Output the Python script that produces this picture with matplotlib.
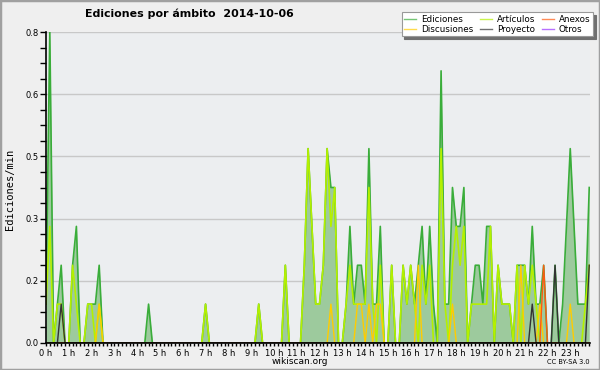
import numpy as np
import matplotlib
matplotlib.use("Agg")
import matplotlib.pyplot as plt
from matplotlib.patches import Rectangle

# one value every 10 minutes, one row per hour (0 h .. 23 h)
ediciones = [
    0.1, 0.8, 0.0, 0.1, 0.2, 0.0,
    0.0, 0.2, 0.3, 0.0, 0.0, 0.1,
    0.1, 0.1, 0.2, 0.0, 0.0, 0.0,
    0.0, 0.0, 0.0, 0.0, 0.0, 0.0,
    0.0, 0.0, 0.0, 0.1, 0.0, 0.0,
    0.0, 0.0, 0.0, 0.0, 0.0, 0.0,
    0.0, 0.0, 0.0, 0.0, 0.0, 0.0,
    0.1, 0.0, 0.0, 0.0, 0.0, 0.0,
    0.0, 0.0, 0.0, 0.0, 0.0, 0.0,
    0.0, 0.0, 0.1, 0.0, 0.0, 0.0,
    0.0, 0.0, 0.0, 0.2, 0.0, 0.0,
    0.0, 0.0, 0.2, 0.5, 0.3, 0.1,
    0.1, 0.2, 0.5, 0.4, 0.4, 0.0,
    0.0, 0.1, 0.3, 0.1, 0.2, 0.2,
    0.1, 0.5, 0.1, 0.1, 0.3, 0.0,
    0.0, 0.2, 0.0, 0.0, 0.2, 0.1,
    0.2, 0.1, 0.2, 0.3, 0.1, 0.3,
    0.1, 0.0, 0.7, 0.1, 0.1, 0.4,
    0.3, 0.3, 0.4, 0.0, 0.1, 0.2,
    0.2, 0.1, 0.3, 0.3, 0.0, 0.2,
    0.1, 0.1, 0.1, 0.0, 0.2, 0.2,
    0.2, 0.1, 0.3, 0.1, 0.1, 0.2,
    0.0, 0.0, 0.2, 0.0, 0.1, 0.3,
    0.5, 0.3, 0.1, 0.1, 0.1, 0.4,
]

articulos = [
    0.1, 0.3, 0.0, 0.1, 0.1, 0.0,
    0.0, 0.2, 0.1, 0.0, 0.0, 0.1,
    0.1, 0.0, 0.1, 0.0, 0.0, 0.0,
    0.0, 0.0, 0.0, 0.0, 0.0, 0.0,
    0.0, 0.0, 0.0, 0.0, 0.0, 0.0,
    0.0, 0.0, 0.0, 0.0, 0.0, 0.0,
    0.0, 0.0, 0.0, 0.0, 0.0, 0.0,
    0.1, 0.0, 0.0, 0.0, 0.0, 0.0,
    0.0, 0.0, 0.0, 0.0, 0.0, 0.0,
    0.0, 0.0, 0.1, 0.0, 0.0, 0.0,
    0.0, 0.0, 0.0, 0.2, 0.0, 0.0,
    0.0, 0.0, 0.2, 0.5, 0.3, 0.1,
    0.1, 0.2, 0.5, 0.3, 0.4, 0.0,
    0.0, 0.1, 0.2, 0.1, 0.1, 0.1,
    0.1, 0.4, 0.1, 0.0, 0.2, 0.0,
    0.0, 0.2, 0.0, 0.0, 0.2, 0.1,
    0.2, 0.1, 0.0, 0.2, 0.1, 0.2,
    0.0, 0.0, 0.5, 0.1, 0.0, 0.2,
    0.3, 0.2, 0.3, 0.0, 0.1, 0.1,
    0.1, 0.1, 0.1, 0.3, 0.0, 0.2,
    0.1, 0.1, 0.1, 0.0, 0.2, 0.0,
    0.2, 0.1, 0.2, 0.1, 0.0, 0.0,
    0.0, 0.0, 0.0, 0.0, 0.0, 0.0,
    0.0, 0.0, 0.0, 0.0, 0.1, 0.2,
]

# sparse series: bin index (10 min steps) and value
discusiones_bins = [14, 75, 82, 83, 85, 87, 88, 98, 107, 125, 130, 138]
discusiones_vals = [0.1, 0.1, 0.1, 0.1, 0.1, 0.1, 0.1, 0.2, 0.1, 0.2, 0.1, 0.1]
anexos_bins = [131]
anexos_vals = [0.2]
proyecto_bins = [4, 128, 134, 143]
proyecto_vals = [0.1, 0.1, 0.2, 0.2]
otros_bins = []
otros_vals = []

hour_labels = ["%d h" % h for h in range(24)]
y_labels = ["0.0", "0.2", "0.3", "0.5", "0.6", "0.8"]

N = len(ediciones)


def dense(bins, vals):
    arr = np.zeros(N)
    arr[bins] = vals
    return arr


x = np.arange(N)

fig = plt.figure(figsize=(6, 3.7), dpi=100, facecolor="#efefef")
ax = fig.add_axes([46 / 600, 1 - 343 / 370, (590 - 46) / 600, (343 - 32) / 370])
ax.set_facecolor("#eceef0")

ax.fill_between(x, ediciones, color="#9dca9d", lw=0, zorder=2)
l_ed, = ax.plot(x, ediciones, color="#3aad3a", lw=1.2, zorder=3, label="Ediciones")
l_ar, = ax.plot(x, articulos, color="#b4f000", lw=1.2, zorder=4, label="Artículos")
l_di, = ax.plot(x, dense(discusiones_bins, discusiones_vals), color="#ffcc00", lw=1.0, zorder=5, label="Discusiones")
l_an, = ax.plot(x, dense(anexos_bins, anexos_vals), color="#ff5a10", lw=1.0, zorder=6, label="Anexos")
l_pr, = ax.plot(x, dense(proyecto_bins, proyecto_vals), color="#333333", lw=1.0, zorder=7, label="Proyecto")
l_ot, = ax.plot(x, dense(otros_bins, otros_vals), color="#9933ff", lw=1.0, zorder=1, label="Otros")

ax.set_xlim(0, 143.2)
ax.set_ylim(0, 0.8)

yt = np.linspace(0, 0.8, len(y_labels))
ax.set_yticks(yt)
ax.set_yticklabels(y_labels)
ax.set_yticks(np.linspace(0, 0.8, 21), minor=True)
ax.set_xticks(np.arange(0, N, 6))
ax.set_xticklabels(hour_labels)
ax.set_xticks(np.arange(0, N), minor=True)

ax.tick_params(axis="both", which="both", labelsize=6, color="black", width=1)
ax.tick_params(axis="y", which="both", length=4.5, pad=1)
ax.tick_params(axis="x", which="both", length=2.5, pad=1.5)

ax.yaxis.grid(True, color="#c8c8c8", lw=1)
ax.set_axisbelow(True)
for side in ["top", "right"]:
    ax.spines[side].set_visible(False)
for side in ["left", "bottom"]:
    ax.spines[side].set_linewidth(1.2)
    ax.spines[side].set_zorder(10)

fig.text(10 / 600, 1 - 189 / 370, "Ediciones/min", rotation=90, ha="center", va="center",
         fontsize=7.5, family="DejaVu Sans Mono")
fig.text(85 / 600, 1 - 14 / 370, "Ediciones por ámbito  2014-10-06", ha="left", va="center",
         fontsize=7.9, fontweight="bold")
fig.text(300 / 600, 1 - 361 / 370, "wikiscan.org", ha="center", va="center", fontsize=6.5)
fig.text(590 / 600, 1 - 362 / 370, "CC BY-SA 3.0", ha="right", va="center", fontsize=4.8)

leg = fig.legend([l_ed, l_di, l_ar, l_pr, l_an, l_ot],
                 ["Ediciones", "Discusiones", "Artículos", "Proyecto", "Anexos", "Otros"],
                 ncol=3, loc="upper right", bbox_to_anchor=(593 / 600, 1 - 12 / 370),
                 fontsize=6.3, frameon=True, fancybox=False,
                 shadow={"color": "#707070", "alpha": 1},
                 handlelength=1.3, handletextpad=0.6, columnspacing=0.8,
                 labelspacing=0.12, borderpad=0.3, borderaxespad=0)
leg.get_frame().set_edgecolor("#999999")
leg.get_frame().set_linewidth(0.8)
for h in leg.get_lines():
    h.set_linewidth(1.0)
    h.set_alpha(0.7)

fig.add_artist(Rectangle((0, 0), 1, 1, transform=fig.transFigure, fill=False,
                         edgecolor="#a0a0a0", lw=2.5))

fig.savefig("out.png", dpi=100, facecolor=fig.get_facecolor())
